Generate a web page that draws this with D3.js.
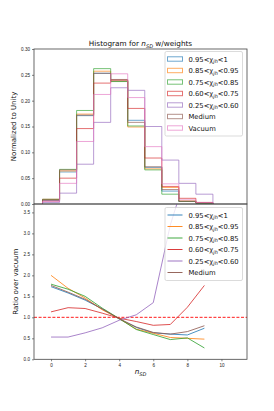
<!DOCTYPE html>
<html>
<head>
<meta charset="utf-8">
<script src="https://cdn.jsdelivr.net/npm/d3@7"></script>
<style>
  body { margin: 0; background: #fff; }
  svg { display: block; font-family: "DejaVu Sans", sans-serif; }
  .tick text { font-size: 4.6px; fill: #222; }
  .tick line { stroke: #333; stroke-width: 0.6; }
  .domain { display: none; }
</style>
</head>
<body>
<div class="chart"></div>
<script>
// bins / x positions (n_SD)
var nBins = [0, 1, 2, 3, 4, 5, 6, 7, 8, 9];

var labels = ["0.95<χ_jh<1", "0.85<χ_jh<0.95", "0.75<χ_jh<0.85", "0.60<χ_jh<0.75", "0.25<χ_jh<0.60", "Medium", "Vacuum"];
var colors = ["#1f77b4", "#ff7f0e", "#2ca02c", "#d62728", "#9467bd", "#8c564b", "#e377c2"];

// normalized histograms
var histBlue   = [0.007, 0.062, 0.171, 0.253, 0.238, 0.162, 0.071, 0.025, 0.005, 0.002];
var histOrange = [0.009, 0.064, 0.174, 0.257, 0.238, 0.149, 0.068, 0.032, 0.006, 0.002];
var histGreen  = [0.009, 0.067, 0.181, 0.262, 0.237, 0.151, 0.066, 0.019, 0.005, 0.001];
var histRed    = [0.006, 0.050, 0.146, 0.234, 0.240, 0.185, 0.089, 0.034, 0.011, 0.003];
var histPurple = [0.003, 0.021, 0.077, 0.158, 0.225, 0.220, 0.150, 0.085, 0.040, 0.019];
var histMedium = [0.009, 0.066, 0.172, 0.253, 0.241, 0.158, 0.072, 0.028, 0.005, 0.002];
var histVacuum = [0.005, 0.040, 0.121, 0.212, 0.252, 0.206, 0.111, 0.039, 0.008, 0.003];

// ratio over vacuum
var ratioBlue   = [1.73, 1.58, 1.41, 1.20, 0.96, 0.76, 0.63, 0.60, 0.58, 0.74];
var ratioOrange = [2.00, 1.69, 1.46, 1.18, 0.97, 0.72, 0.62, 0.52, 0.50, 0.48];
var ratioGreen  = [1.79, 1.67, 1.50, 1.22, 0.97, 0.71, 0.59, 0.47, 0.51, 0.27];
var ratioRed    = [1.13, 1.23, 1.21, 1.10, 0.98, 0.90, 0.81, 0.83, 1.24, 1.76];
var ratioPurple = [0.53, 0.53, 0.63, 0.75, 0.93, 1.06, 1.35, 3.20, 4.50, 5.50];
var ratioMedium = [1.76, 1.60, 1.43, 1.20, 0.97, 0.77, 0.64, 0.60, 0.66, 0.80];

var histTicks = [0, 0.05, 0.10, 0.15, 0.20, 0.25, 0.30];
var ratioTicks = [0, 0.5, 1, 1.5, 2, 2.5, 3, 3.5];
var xTicks = [0, 2, 4, 6, 8, 10];

var hists = [histBlue, histOrange, histGreen, histRed, histPurple, histMedium, histVacuum];
var ratios = [ratioBlue, ratioOrange, ratioGreen, ratioRed, ratioPurple, ratioMedium];

var W = 274, H = 411;
var left = 34, right = 247, top1 = 49, mid = 204, bot = 359.3;

var svg = d3.select(".chart").append("svg")
    .attr("width", W)
    .attr("height", H);

var x = d3.scaleLinear().domain([-1, 11.5]).range([left, right]);
var yH = d3.scaleLinear().domain([0, 0.30]).range([mid, top1]);
var yR = d3.scaleLinear().domain([0, 3.7]).range([bot, mid]);

svg.append("defs").append("clipPath").attr("id", "clipR")
  .append("rect").attr("x", left).attr("y", mid).attr("width", right - left).attr("height", bot - mid);

// ---- top panel: step histograms
var line = d3.line();
hists.forEach(function(h, k) {
  var pts = [[x(nBins[0] - 0.5), yH(0)]];
  h.forEach(function(v, i) {
    pts.push([x(nBins[i] - 0.5), yH(v)]);
    pts.push([x(nBins[i] + 0.5), yH(v)]);
  });
  pts.push([x(nBins[nBins.length - 1] + 0.5), yH(0)]);
  svg.append("path")
    .attr("d", line(pts))
    .attr("fill", "none")
    .attr("stroke", colors[k])
    .attr("stroke-opacity", 0.65)
    .attr("stroke-width", 1);
});

svg.append("g")
    .attr("transform", "translate(" + left + ",0)")
    .call(d3.axisLeft(yH).tickValues(histTicks).tickFormat(d3.format(".2f")).tickSize(2).tickPadding(2));

svg.append("rect")
    .attr("x", left).attr("y", top1).attr("width", right - left).attr("height", mid - top1)
    .attr("fill", "none").attr("stroke", "#444").attr("stroke-width", 0.8);

// title
var title = svg.append("text")
    .attr("x", (left + right) / 2).attr("y", 46)
    .attr("text-anchor", "middle")
    .attr("font-size", 7.3)
    .attr("fill", "#111");
title.append("tspan").text("Histogram for ");
title.append("tspan").attr("font-style", "italic").text("n");
title.append("tspan").attr("font-style", "italic").attr("font-size", 5).attr("dy", 1.5).text("SD");
title.append("tspan").attr("dy", -1.5).text(" w/weights");

svg.append("text")
    .attr("transform", "translate(16," + ((top1 + mid) / 2) + ") rotate(-90)")
    .attr("text-anchor", "middle")
    .attr("font-size", 7)
    .attr("fill", "#111")
    .text("Normalized to Unity");

// ---- bottom panel: ratios
var gR = svg.append("g").attr("clip-path", "url(#clipR)");
gR.append("line")
    .attr("x1", left).attr("x2", right)
    .attr("y1", yR(1)).attr("y2", yR(1))
    .attr("stroke", "red").attr("stroke-width", 0.9)
    .attr("stroke-dasharray", "3,1.6");

var rLine = d3.line()
    .x(function(d, i) { return x(nBins[i]); })
    .y(function(d) { return yR(d); });

ratios.forEach(function(r, k) {
  gR.append("path")
    .datum(r)
    .attr("d", rLine)
    .attr("fill", "none")
    .attr("stroke", colors[k])
    .attr("stroke-opacity", 0.9)
    .attr("stroke-width", 0.9);
});

svg.append("g")
    .attr("transform", "translate(" + left + ",0)")
    .call(d3.axisLeft(yR).tickValues(ratioTicks).tickFormat(d3.format(".1f")).tickSize(2).tickPadding(2));

svg.append("g")
    .attr("transform", "translate(0," + bot + ")")
    .call(d3.axisBottom(x).tickValues(xTicks).tickFormat(d3.format("d")).tickSize(2).tickPadding(2));

svg.append("rect")
    .attr("x", left).attr("y", mid).attr("width", right - left).attr("height", bot - mid)
    .attr("fill", "none").attr("stroke", "#444").attr("stroke-width", 0.8);

svg.append("text")
    .attr("transform", "translate(18," + ((mid + bot) / 2) + ") rotate(-90)")
    .attr("text-anchor", "middle")
    .attr("font-size", 7)
    .attr("fill", "#111")
    .text("Ratio over vacuum");

var xl = svg.append("text")
    .attr("x", (left + right) / 2).attr("y", 374)
    .attr("text-anchor", "middle")
    .attr("font-size", 7.3)
    .attr("fill", "#111");
xl.append("tspan").attr("font-style", "italic").text("n");
xl.append("tspan").attr("font-style", "italic").attr("font-size", 5).attr("dy", 1.5).text("SD");

// ---- legends
function labelText(t, s) {
  var p = s.split("_");
  t.append("tspan").text(p[0]);
  if (p.length > 1) {
    var rest = p[1];
    t.append("tspan").attr("font-size", 5).attr("dy", 1.5).attr("font-style", "italic").text(rest.slice(0, 2));
    t.append("tspan").attr("dy", -1.5).text(rest.slice(2));
  }
}

function legend(y0, n, patch) {
  var step = 11.5, h = n * step + 4;
  var g = svg.append("g");
  g.append("rect")
    .attr("x", 165).attr("y", y0).attr("width", 77.5).attr("height", h)
    .attr("rx", 1.5)
    .attr("fill", "white").attr("fill-opacity", 0.8)
    .attr("stroke", "#ccc").attr("stroke-width", 0.7);
  for (var k = 0; k < n; k++) {
    var cy = y0 + 7.5 + k * step;
    if (patch) {
      g.append("rect")
        .attr("x", 167.5).attr("y", cy - 2.2).attr("width", 15).attr("height", 4.4)
        .attr("fill", "none").attr("stroke", colors[k]).attr("stroke-opacity", 0.65).attr("stroke-width", 1);
    } else {
      g.append("line")
        .attr("x1", 167.5).attr("x2", 182.5).attr("y1", cy).attr("y2", cy)
        .attr("stroke", colors[k]).attr("stroke-opacity", 0.9).attr("stroke-width", 1);
    }
    var t = g.append("text")
      .attr("x", 188.5).attr("y", cy + 2.5)
      .attr("font-size", 6.8)
      .attr("fill", "#111");
    labelText(t, labels[k]);
  }
}
legend(51.5, 7, true);
legend(207.5, 6, false);
</script>
</body>
</html>
